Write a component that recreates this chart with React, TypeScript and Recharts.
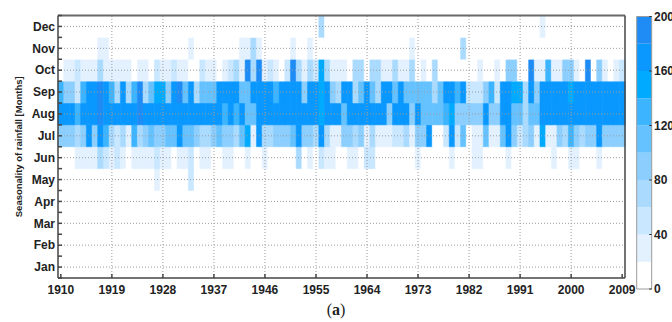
import { BarChart, Bar, XAxis, YAxis, Cell, ReferenceLine } from "recharts";

const years = Array.from({ length: 100 }, (_, i) => 1910 + i);
const months = ["Jan", "Feb", "Mar", "Apr", "May", "Jun", "Jul", "Aug", "Sep", "Oct", "Nov", "Dec"];
const yearTicks = [1910, 1919, 1928, 1937, 1946, 1955, 1964, 1973, 1982, 1991, 2000, 2009];
const scaleTicks = [0, 40, 80, 120, 160, 200];
// lower edge of each colour band on the scale
const scaleSteps = [0, 20, 40, 60, 80, 100, 120, 140, 160, 180, 200];
const palette = [
  "#ffffff", "#e3f1ff", "#c9e7ff", "#aadbff", "#8ccfff",
  "#66c2ff", "#3cb4ff", "#00aaff", "#0a98ff", "#1f8cf5",
];

// monthly rainfall per year, 1910 → 2009
const dry = [
  0, 0, 0, 0, 0, 0, 0, 0, 0, 0,
  0, 0, 0, 0, 0, 0, 0, 0, 0, 0,
  0, 0, 0, 0, 0, 0, 0, 0, 0, 0,
  0, 0, 0, 0, 0, 0, 0, 0, 0, 0,
  0, 0, 0, 0, 0, 0, 0, 0, 0, 0,
  0, 0, 0, 0, 0, 0, 0, 0, 0, 0,
  0, 0, 0, 0, 0, 0, 0, 0, 0, 0,
  0, 0, 0, 0, 0, 0, 0, 0, 0, 0,
  0, 0, 0, 0, 0, 0, 0, 0, 0, 0,
  0, 0, 0, 0, 0, 0, 0, 0, 0, 0,
];
const may = [
  0, 0, 0, 0, 0, 0, 0, 0, 0, 0,
  0, 0, 0, 0, 0, 0, 0, 30, 0, 0,
  0, 0, 0, 50, 0, 0, 0, 0, 0, 0,
  0, 0, 0, 0, 0, 0, 0, 0, 0, 0,
  0, 0, 0, 0, 0, 0, 0, 0, 0, 0,
  0, 0, 0, 0, 0, 0, 0, 0, 0, 0,
  0, 0, 0, 0, 0, 0, 0, 0, 0, 0,
  0, 0, 0, 0, 0, 0, 0, 0, 0, 0,
  0, 0, 0, 0, 0, 0, 0, 0, 0, 0,
  0, 0, 0, 0, 0, 0, 0, 0, 0, 0,
];
const jun = [
  0, 0, 0, 30, 30, 30, 30, 70, 50, 30,
  50, 30, 0, 30, 30, 30, 30, 50, 30, 30,
  0, 30, 30, 50, 0, 30, 30, 0, 0, 30,
  30, 0, 0, 30, 0, 0, 30, 0, 0, 0,
  0, 0, 70, 0, 30, 0, 50, 30, 30, 0,
  0, 30, 30, 0, 50, 50, 0, 0, 0, 0,
  0, 0, 0, 30, 0, 0, 0, 0, 0, 30,
  0, 0, 0, 30, 30, 0, 0, 0, 0, 30,
  0, 0, 0, 0, 0, 0, 0, 30, 0, 0,
  30, 30, 0, 0, 0, 30, 0, 0, 0, 0,
];
const jul = [
  90, 90, 90, 70, 90, 170, 90, 170, 130, 70,
  50, 70, 30, 130, 70, 90, 110, 90, 90, 110,
  110, 170, 110, 110, 90, 70, 70, 90, 110, 90,
  90, 70, 110, 150, 30, 170, 70, 70, 90, 90,
  90, 110, 170, 90, 90, 70, 170, 70, 30, 30,
  90, 90, 70, 90, 30, 70, 30, 30, 30, 50,
  50, 70, 30, 90, 90, 170, 0, 0, 50, 170,
  50, 110, 0, 30, 30, 110, 30, 30, 110, 170,
  90, 50, 70, 90, 30, 150, 30, 30, 90, 70,
  130, 90, 70, 90, 90, 170, 90, 90, 90, 90,
];
const aug = [
  170, 170, 170, 130, 170, 170, 170, 190, 170, 170,
  170, 170, 170, 170, 190, 170, 170, 170, 170, 170,
  170, 170, 170, 170, 170, 170, 170, 170, 170, 130,
  170, 130, 170, 110, 110, 170, 170, 170, 170, 170,
  170, 170, 170, 170, 170, 170, 150, 170, 170, 170,
  110, 170, 170, 170, 170, 170, 170, 170, 90, 170,
  170, 170, 90, 170, 110, 110, 110, 110, 130, 150,
  90, 90, 90, 90, 90, 170, 90, 90, 170, 170,
  110, 110, 70, 110, 110, 170, 170, 170, 170, 170,
  170, 170, 170, 170, 170, 170, 170, 170, 170, 170,
];
const sep = [
  130, 90, 90, 50, 130, 170, 170, 190, 170, 130,
  70, 170, 70, 130, 190, 70, 110, 150, 150, 90,
  170, 190, 110, 170, 70, 110, 110, 110, 170, 170,
  170, 170, 110, 110, 170, 170, 170, 170, 130, 170,
  170, 170, 170, 90, 170, 170, 150, 170, 90, 70,
  170, 170, 70, 110, 170, 110, 70, 170, 170, 110,
  170, 110, 110, 110, 110, 110, 70, 110, 170, 170,
  130, 170, 50, 50, 50, 90, 130, 50, 170, 170,
  150, 150, 70, 170, 90, 170, 170, 170, 170, 170,
  150, 170, 170, 170, 170, 170, 170, 170, 170, 170,
];
const oct = [
  0, 30, 30, 50, 30, 30, 30, 70, 30, 30,
  30, 30, 30, 0, 30, 30, 0, 50, 30, 30,
  50, 30, 30, 0, 0, 50, 30, 30, 0, 30,
  50, 70, 30, 190, 70, 190, 30, 50, 30, 0,
  50, 190, 70, 30, 70, 50, 150, 70, 30, 30,
  30, 0, 70, 70, 0, 70, 70, 30, 30, 70,
  30, 30, 70, 0, 30, 0, 70, 0, 0, 0,
  0, 0, 0, 0, 30, 0, 0, 30, 0, 90,
  90, 0, 0, 190, 30, 30, 130, 30, 30, 90,
  90, 30, 0, 190, 0, 90, 30, 0, 30, 50,
];
const nov = [
  0, 0, 0, 0, 0, 0, 0, 30, 30, 0,
  0, 0, 0, 0, 0, 0, 0, 0, 0, 0,
  0, 0, 0, 30, 0, 0, 0, 0, 0, 0,
  0, 0, 30, 30, 70, 30, 0, 0, 0, 0,
  0, 30, 0, 0, 30, 0, 0, 0, 0, 0,
  0, 0, 0, 0, 0, 0, 0, 0, 0, 0,
  0, 0, 30, 0, 0, 0, 0, 0, 0, 0,
  0, 70, 0, 0, 0, 0, 0, 0, 0, 0,
  0, 0, 0, 0, 0, 0, 0, 0, 0, 0,
  0, 0, 0, 0, 0, 0, 0, 0, 0, 0,
];
const dec = [
  0, 0, 0, 0, 0, 0, 0, 0, 0, 0,
  0, 0, 0, 0, 0, 0, 0, 0, 0, 0,
  0, 0, 0, 0, 0, 0, 0, 0, 0, 0,
  0, 0, 0, 0, 0, 0, 0, 0, 0, 0,
  0, 0, 0, 0, 0, 0, 70, 0, 0, 0,
  0, 0, 0, 0, 0, 0, 0, 0, 0, 0,
  0, 0, 0, 0, 0, 0, 0, 0, 0, 0,
  0, 0, 0, 0, 0, 0, 0, 0, 0, 0,
  0, 0, 0, 0, 0, 30, 0, 0, 0, 0,
  0, 0, 0, 0, 0, 0, 0, 0, 0, 0,
];
const rainfall = [dry, dry, dry, dry, may, jun, jul, aug, sep, oct, nov, dec];

// every month is one unit tall in the stack; colour carries the rainfall
const table = years.map((year, i) => {
  const row: Record<string, number> = { year };
  months.forEach((m, j) => {
    row[m] = rainfall[j][i];
    row[`${m}Slot`] = 1;
  });
  return row;
});

const scaleRow = [
  Object.fromEntries([
    ["name", "scale"],
    ...palette.map((_, k) => [`b${k}`, scaleSteps[k + 1] - scaleSteps[k]]),
  ]),
];

const monthTicks = Array.from({ length: 25 }, (_, k) => k / 2);

function shade(v: number) {
  const k = Math.min(palette.length - 1, Math.floor(v / 20));
  return palette[k];
}

const font = "'Liberation Sans', Arial, sans-serif";
const tickFont = { fontSize: 12, fontWeight: 700, fill: "#222", fontFamily: font };
const frame = { stroke: "#444", strokeWidth: 1.5 };
const topFrame = { stroke: "#6a6a6a", strokeWidth: 2 };
const gridLine = { stroke: "#9c9c9c", strokeDasharray: "1 2", strokeWidth: 1 };

function SideTitle({ viewBox }: any) {
  const x = (viewBox?.x ?? 0) + 18;
  const y = (viewBox?.y ?? 0) + (viewBox?.height ?? 0) / 2;
  return (
    <text
      x={x}
      y={y}
      transform={`rotate(-90 ${x} ${y})`}
      textAnchor="middle"
      dominantBaseline="central"
      fontSize={9.5}
      fontWeight={700}
      fontFamily={font}
      fill="#222"
    >
      Seasonality of rainfall [Months]
    </text>
  );
}

export default function App() {
  return (
    <div style={{ position: "absolute", left: 0, top: 0, width: 672, height: 322, background: "#fff", overflow: "hidden" }}>
      <div style={{ position: "absolute", left: 0, top: 0 }}>
        <BarChart
          width={672}
          height={300}
          data={table}
          margin={{ top: 14.5, right: 46, bottom: 0, left: 0 }}
          barCategoryGap={0}
          barGap={0}
        >
          <XAxis
            dataKey="year"
            interval={8}
            tickSize={-4}
            tickMargin={11}
            tick={tickFont}
            axisLine={frame}
            tickLine={frame}
            height={22}
          />
          <XAxis
            xAxisId="top"
            orientation="top"
            dataKey="year"
            interval={8}
            tick={false}
            tickSize={-4}
            height={1}
            axisLine={topFrame}
            tickLine={frame}
          />
          <YAxis
            type="number"
            domain={[0, 12]}
            ticks={monthTicks}
            interval={0}
            tickFormatter={(v: number) => (v % 1 === 0.5 ? months[v - 0.5] : "")}
            tickSize={-4}
            tickMargin={7}
            tick={tickFont}
            axisLine={frame}
            tickLine={frame}
            width={58}
            label={<SideTitle />}
          />
          <YAxis
            yAxisId="right"
            orientation="right"
            type="number"
            domain={[0, 12]}
            ticks={monthTicks}
            interval={0}
            tick={false}
            tickSize={-4}
            axisLine={frame}
            tickLine={frame}
            width={1}
          />
          {months.map((m) => (
            <Bar key={m} dataKey={`${m}Slot`} stackId="cells" isAnimationActive={false}>
              {table.map((row) => (
                <Cell key={row.year} fill={shade(row[m])} stroke={shade(row[m])} strokeWidth={0.5} />
              ))}
            </Bar>
          ))}
          {yearTicks.slice(1, -1).map((y) => (
            <ReferenceLine key={y} x={y} {...gridLine} />
          ))}
          {months.map((m, j) => (
            <ReferenceLine key={m} y={j + 0.5} {...gridLine} />
          ))}
        </BarChart>
      </div>

      <div style={{ position: "absolute", left: 636, top: 0 }}>
        <BarChart
          width={36}
          height={300}
          data={scaleRow}
          margin={{ top: 15.5, right: 0, bottom: 10, left: 0 }}
          barCategoryGap={0}
        >
          <XAxis dataKey="name" tick={false} tickLine={false} height={1} axisLine={{ stroke: "#9a9a9a" }} />
          <XAxis xAxisId="top" orientation="top" dataKey="name" tick={false} tickLine={false} height={1} axisLine={{ stroke: "#9a9a9a" }} />
          <YAxis
            yAxisId="edge"
            orientation="left"
            type="number"
            domain={[0, 200]}
            ticks={scaleTicks}
            tick={false}
            tickSize={-2.5}
            width={0.7}
            axisLine={{ stroke: "#9a9a9a" }}
            tickLine={{ stroke: "#333" }}
          />
          <YAxis
            orientation="right"
            type="number"
            domain={[0, 200]}
            ticks={scaleTicks}
            interval={0}
            tickSize={-2.5}
            tickMargin={4.8}
            tick={tickFont}
            width={20.3}
            axisLine={{ stroke: "#9a9a9a" }}
            tickLine={{ stroke: "#333" }}
          />
          {palette.map((c, k) => (
            <Bar key={c} dataKey={`b${k}`} stackId="scale" fill={c} isAnimationActive={false} />
          ))}
        </BarChart>
      </div>

      <div
        style={{
          position: "absolute",
          left: 0,
          top: 300,
          width: 672,
          textAlign: "center",
          fontFamily: "'Liberation Serif', 'Times New Roman', serif",
          fontSize: 16,
          lineHeight: "20px",
          color: "#222",
        }}
      >
        (<b>a</b>)
      </div>
    </div>
  );
}
